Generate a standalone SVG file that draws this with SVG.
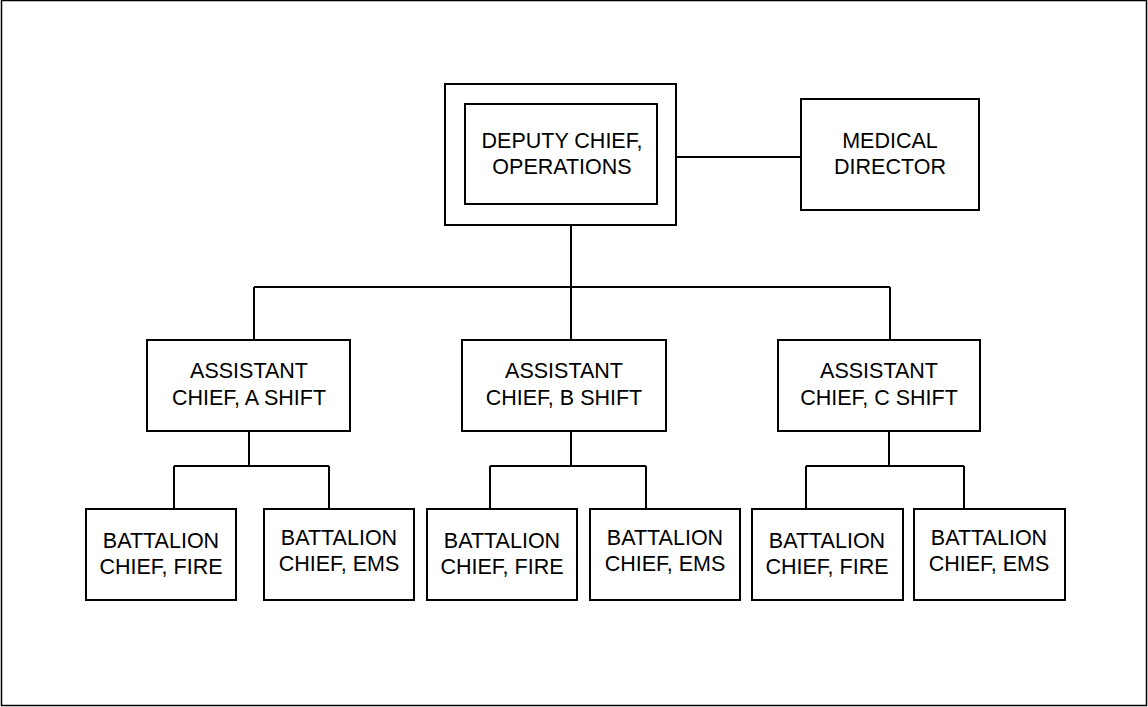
<svg xmlns="http://www.w3.org/2000/svg" width="1148" height="707" viewBox="0 0 1148 707">
<style>
.box{fill:#fff;stroke:#000;stroke-width:2}
.ln{fill:none;stroke:#000;stroke-width:2}
text{font-family:"Liberation Sans",Arial,sans-serif;font-size:21.5px;fill:#000;text-anchor:middle}
</style>
<rect x="0" y="0" width="1148" height="707" fill="#fff"/>
<rect x="1.5" y="0.5" width="1145" height="705" fill="none" stroke="#000" stroke-width="1.5"/>
<g id="connectors" class="ln">
<path d="M676 157H801"/>
<path d="M571 225V287M254 287H890M254 287V340M571 287V340M890 287V340"/>
<path d="M249 431V466M174 466H329M174 466V509M329 466V509"/>
<path d="M571 431V466M490 466H646M490 466V509M646 466V509"/>
<path d="M889 431V466M806 466H964M806 466V509M964 466V509"/>
</g>
<g id="deputy">
<rect class="box" x="445" y="84" width="231" height="141"/>
<rect class="box" x="465" y="104" width="192" height="100"/>
<text x="562" y="148">DEPUTY CHIEF,</text>
<text x="562" y="174">OPERATIONS</text>
</g>
<g id="medical">
<rect class="box" x="801" y="99" width="178" height="111"/>
<text x="890" y="148">MEDICAL</text>
<text x="890" y="174">DIRECTOR</text>
</g>
<g id="asstA">
<rect class="box" x="147" y="340" width="203" height="91"/>
<text x="249" y="378">ASSISTANT</text>
<text x="249" y="405">CHIEF, A SHIFT</text>
</g>
<g id="asstB">
<rect class="box" x="462" y="340" width="204" height="91"/>
<text x="564" y="378">ASSISTANT</text>
<text x="564" y="405">CHIEF, B SHIFT</text>
</g>
<g id="asstC">
<rect class="box" x="778" y="340" width="202" height="91"/>
<text x="879" y="378">ASSISTANT</text>
<text x="879" y="405">CHIEF, C SHIFT</text>
</g>
<g id="bcA-fire">
<rect class="box" x="86" y="509" width="150" height="91"/>
<text x="161" y="548">BATTALION</text>
<text x="161" y="574">CHIEF, FIRE</text>
</g>
<g id="bcA-ems">
<rect class="box" x="264" y="509" width="150" height="91"/>
<text x="339" y="545">BATTALION</text>
<text x="339" y="571">CHIEF, EMS</text>
</g>
<g id="bcB-fire">
<rect class="box" x="427" y="509" width="150" height="91"/>
<text x="502" y="548">BATTALION</text>
<text x="502" y="574">CHIEF, FIRE</text>
</g>
<g id="bcB-ems">
<rect class="box" x="590" y="509" width="150" height="91"/>
<text x="665" y="545">BATTALION</text>
<text x="665" y="571">CHIEF, EMS</text>
</g>
<g id="bcC-fire">
<rect class="box" x="752" y="509" width="151" height="91"/>
<text x="827" y="548">BATTALION</text>
<text x="827" y="574">CHIEF, FIRE</text>
</g>
<g id="bcC-ems">
<rect class="box" x="914" y="509" width="151" height="91"/>
<text x="989" y="545">BATTALION</text>
<text x="989" y="571">CHIEF, EMS</text>
</g>
</svg>
